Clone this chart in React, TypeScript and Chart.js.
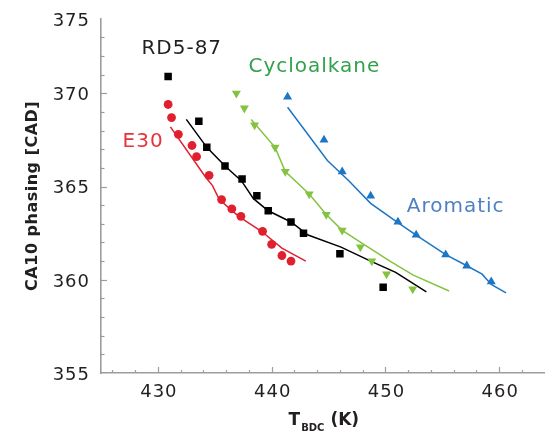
import React, { useEffect, useRef } from "react";
import { Chart, registerables } from "chart.js";

Chart.register(...registerables);

// ---- axis ranges and tick labels ----
const xMin = 425;
const xMax = 464;
const yMin = 355;
const yMax = 374;
const xTickValues = [430, 440, 450, 460];
const xTickLabels = ["430", "440", "450", "460"];
const yTickValues = [355, 360, 365, 370, 374];
const yTickLabels = ["355", "360", "365", "370", "375"];

// ---- E30 (red) ----
const e30Temp = [430.9, 431.2, 431.8, 433.0, 433.4, 434.5, 435.6, 436.5, 437.3, 439.2, 440.0, 440.9, 441.7];
const e30Phase = [369.4, 368.7, 367.8, 367.2, 366.6, 365.6, 364.3, 363.8, 363.4, 362.6, 361.9, 361.3, 361.0];
const e30LineTemp = [431.1, 434.2, 434.8, 435.4, 437.1, 439.1, 440.9, 443.0];
const e30LinePhase = [368.2, 365.5, 365.05, 364.3, 363.4, 362.6, 361.7, 361.0];

// ---- RD5-87 (black) ----
const rdTemp = [430.9, 433.6, 434.3, 435.9, 437.4, 438.7, 439.7, 441.7, 442.8, 446.0, 449.8];
const rdPhase = [370.9, 368.5, 367.1, 366.1, 365.4, 364.5, 363.7, 363.1, 362.5, 361.4, 359.6];
const rdLineTemp = [432.5, 434.3, 435.9, 437.35, 438.4, 439.7, 441.7, 443.2, 446.1, 448.7, 450.9, 453.6];
const rdLinePhase = [368.6, 367.1, 366.1, 365.3, 364.35, 363.7, 363.1, 362.4, 361.75, 361.0, 360.4, 359.35];

// ---- Cycloalkane (green) ----
const cycTemp = [436.9, 437.6, 438.5, 440.3, 441.2, 443.3, 444.8, 446.2, 447.8, 448.8, 450.1, 452.4];
const cycPhase = [370.0, 369.2, 368.3, 367.1, 365.8, 364.6, 363.5, 362.65, 361.75, 361.0, 360.3, 359.5];
const cycLineTemp = [438.2, 440.3, 441.2, 443.3, 444.8, 446.2, 448.1, 450.4, 452.45, 455.6];
const cycLinePhase = [368.6, 367.1, 365.8, 364.6, 363.5, 362.65, 361.9, 361.0, 360.25, 359.4];

// ---- Aromatic (blue) ----
const aroTemp = [441.4, 444.6, 446.2, 448.7, 451.1, 452.7, 455.3, 457.15, 459.3];
const aroPhase = [369.8, 367.5, 365.8, 364.5, 363.1, 362.4, 361.35, 360.75, 359.9];
const aroLineTemp = [441.4, 444.9, 446.8, 448.7, 451.0, 452.7, 455.3, 457.15, 458.5, 459.3, 460.6];
const aroLinePhase = [369.25, 366.4, 365.3, 364.1, 363.1, 362.4, 361.35, 360.75, 360.3, 359.75, 359.3];

// ---- series labels (anchored in data coordinates) ----
const seriesLabels = [
  { text: "RD5-87", x: 428.55, y: 372.1, color: "#231f20" },
  { text: "E30", x: 426.9, y: 367.12, color: "#e8333a" },
  { text: "Cycloalkane", x: 437.96, y: 371.12, color: "#31a24c" },
  { text: "Aromatic", x: 451.87, y: 363.64, color: "#4f80c2" },
];

const RED = "#e0202e";
const BLACK = "#000000";
const GREEN = "#84c341";
const BLUE = "#1b76c5";
const AXIS = "#9d9d9d";
const TEXT = "#231f20";
const FONT = "'DejaVu Sans', sans-serif";

const pts = (xs: number[], ys: number[]) => xs.map((x, i) => ({ x, y: ys[i] }));

const lineDs = (xs: number[], ys: number[], color: string) => ({
  data: pts(xs, ys),
  showLine: true,
  borderColor: color,
  borderWidth: 1.5,
  pointRadius: 0,
  fill: false,
  tension: 0,
  order: 2,
});

const markerDs = (xs: number[], ys: number[], color: string, style: string, radius: number, rotation = 0) => ({
  data: pts(xs, ys),
  showLine: false,
  backgroundColor: color,
  borderColor: color,
  borderWidth: 0,
  pointStyle: style,
  pointRadius: radius,
  pointRotation: rotation,
  order: 1,
});

const decorPlugin = {
  id: "decor",
  afterDraw(chart: any) {
    const ctx = chart.ctx as CanvasRenderingContext2D;
    const xs = chart.scales.x;
    const ys = chart.scales.y;
    const area = chart.chartArea;
    ctx.save();
    // inward tick marks
    ctx.strokeStyle = AXIS;
    ctx.lineWidth = 1.2;
    for (let v = yMin + 1; v < yMax; v++) {
      const py = Math.round(ys.getPixelForValue(v)) + 0.5;
      const len = v % 5 === 0 ? 6 : 3.5;
      ctx.beginPath();
      ctx.moveTo(area.left, py);
      ctx.lineTo(area.left + len, py);
      ctx.stroke();
    }
    for (let v = xMin + 1; v < xMax; v += 2) {
      const px = Math.round(xs.getPixelForValue(v)) + 0.5;
      const len = v % 10 === 0 ? 6 : 3;
      ctx.beginPath();
      ctx.moveTo(px, area.bottom);
      ctx.lineTo(px, area.bottom - len);
      ctx.stroke();
    }

    // tick labels
    ctx.fillStyle = TEXT;
    ctx.font = `18px ${FONT}`;
    (ctx as any).letterSpacing = "1px";
    ctx.textBaseline = "alphabetic";
    ctx.textAlign = "right";
    yTickValues.forEach((v, i) => {
      ctx.fillText(yTickLabels[i], area.left - 11, ys.getPixelForValue(v) + 6.8);
    });
    ctx.textAlign = "center";
    xTickValues.forEach((v, i) => {
      ctx.fillText(xTickLabels[i], xs.getPixelForValue(v) + 1, area.bottom + 23.5);
    });

    // series labels
    ctx.font = `20px ${FONT}`;
    ctx.textAlign = "left";
    (ctx as any).letterSpacing = "1px";
    seriesLabels.forEach((l) => {
      ctx.fillStyle = l.color;
      ctx.fillText(l.text, xs.getPixelForValue(l.x), ys.getPixelForValue(l.y));
    });

    // y axis title
    (ctx as any).letterSpacing = "0.5px";
    ctx.fillStyle = TEXT;
    ctx.font = `bold 16px ${FONT}`;
    ctx.save();
    ctx.translate(37, (area.top + area.bottom) / 2);
    ctx.rotate(-Math.PI / 2);
    ctx.textAlign = "center";
    ctx.textBaseline = "alphabetic";
    ctx.fillText("CA10 phasing [CAD]", 0, 0);
    ctx.restore();

    // x axis title: T_BDC (K)
    (ctx as any).letterSpacing = "0px";
    ctx.textAlign = "left";
    ctx.font = `bold 17px ${FONT}`;
    const wT = ctx.measureText("T").width;
    const wK = ctx.measureText(" (K)").width;
    ctx.font = `bold 10px ${FONT}`;
    const wSub = ctx.measureText("BDC").width;
    const total = wT + 1 + wSub + wK;
    let sx = (area.left + area.right) / 2 + 1 - total / 2;
    const base = 425;
    ctx.font = `bold 17px ${FONT}`;
    ctx.fillText("T", sx, base);
    sx += wT + 1;
    ctx.font = `bold 10px ${FONT}`;
    ctx.fillText("BDC", sx, base + 5.5);
    sx += wSub;
    ctx.font = `bold 17px ${FONT}`;
    ctx.fillText(" (K)", sx, base);
    ctx.restore();
  },
};

export default function App() {
  const canvasRef = useRef<HTMLCanvasElement | null>(null);

  useEffect(() => {
    if (!canvasRef.current) return;
    const chart = new Chart(canvasRef.current, {
      type: "scatter",
      data: {
        datasets: [
          lineDs(e30LineTemp, e30LinePhase, RED),
          lineDs(rdLineTemp, rdLinePhase, BLACK),
          lineDs(cycLineTemp, cycLinePhase, GREEN),
          lineDs(aroLineTemp, aroLinePhase, BLUE),
          markerDs(e30Temp, e30Phase, RED, "circle", 4.4),
          markerDs(rdTemp, rdPhase, BLACK, "rect", 5.3),
          markerDs(cycTemp, cycPhase, GREEN, "triangle", 5.2, 180),
          markerDs(aroTemp, aroPhase, BLUE, "triangle", 5.2),
        ] as any,
      },
      options: {
        animation: false,
        responsive: false,
        maintainAspectRatio: false,
        layout: { padding: { top: 18.7, right: 0, left: 0, bottom: 0 } },
        plugins: { legend: { display: false }, tooltip: { enabled: false } },
        scales: {
          x: {
            type: "linear",
            min: xMin,
            max: xMax,
            ticks: { display: false },
            grid: { display: false },
            border: { display: true, color: AXIS, width: 1.6 },
            afterFit: (s: any) => {
              s.height = 59;
            },
          },
          y: {
            type: "linear",
            min: yMin,
            max: yMax,
            ticks: { display: false },
            grid: { display: false },
            border: { display: true, color: AXIS, width: 1.6 },
            afterFit: (s: any) => {
              s.width = 101;
            },
          },
        },
      } as any,
      plugins: [decorPlugin],
    });
    return () => chart.destroy();
  }, []);

  return (
    <div style={{ position: "fixed", left: 0, top: 0, width: 550, height: 432, background: "#ffffff" }}>
      <canvas ref={canvasRef} width={550} height={432} />
    </div>
  );
}
